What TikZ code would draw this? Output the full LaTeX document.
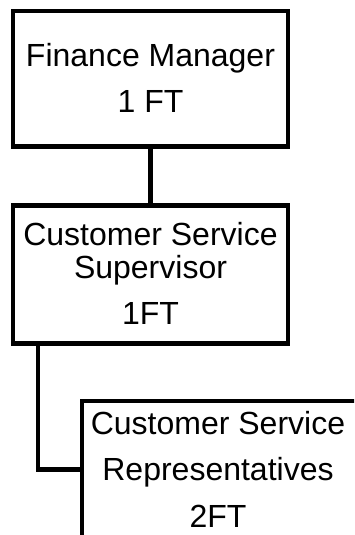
\documentclass[tikz,border=0pt]{standalone}
\usepackage{fontspec}
\setmainfont{Liberation Sans}
\newcommand{\boxtext}[3]{\raisebox{#1}[0pt][0pt]{\hspace*{#2}\begin{tabular}[t]{@{}c@{}}#3\end{tabular}}}
\begin{document}
\begin{tikzpicture}[x=1pt,y=-1pt,
  orgbox/.style={draw=black, line width=4.5pt, fill=white, rectangle,
    inner sep=0pt, font=\fontsize{32}{33}\selectfont},
  link/.style={draw=black, line width=4.5pt}]
\useasboundingbox (0,0) rectangle (354,535);
\clip (0,0) rectangle (354,535);
\node[orgbox, minimum width=275pt, minimum height=135.5pt] (fm) at (150.5,78.75)
  {\boxtext{12.75pt}{0pt}{Finance Manager\\[13pt]1 FT}};
\node[orgbox, minimum width=275pt, minimum height=138pt] (css) at (150.5,274.5)
  {\boxtext{29.5pt}{0pt}{Customer Service\\Supervisor\\[13pt]1FT}};
\node[orgbox, minimum width=290pt, minimum height=140pt] (csr) at (227,471)
  {\boxtext{37pt}{-18pt}{Customer Service\\[13pt]Representatives\\[14pt]2FT}};
\draw[link] (fm.south) -- (css.north);
\draw[link] ([xshift=27pt]css.south west) |- ([yshift=1.5pt]csr.west);
\end{tikzpicture}
\end{document}
